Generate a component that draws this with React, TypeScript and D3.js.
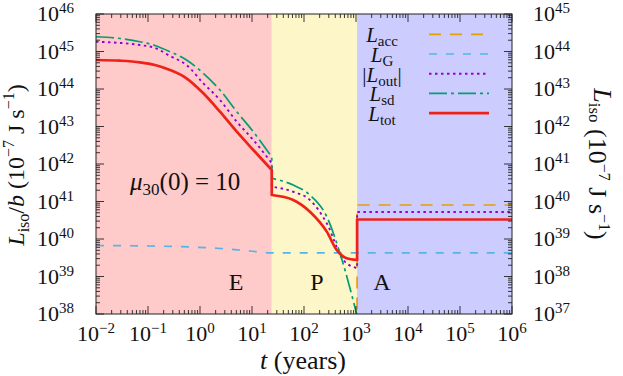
import { useRef, useEffect } from "react";
import * as d3 from "d3";

// phase boundaries (years)
const phaseEdges = [0.01, 24, 1050, 1e6];
const phaseNames = ["E", "P", "A"];
const phaseColors = ["#ffcaca", "#fdf6c9", "#ccccff"];

// ejector phase
const tE = [0.01, 0.029, 0.07, 0.136, 0.265, 0.55, 1.16, 2.42, 5.1, 10.6, 24];
const totE = [5.93e44, 5.69e44, 5.15e44, 4.37e44, 3.21e44, 1.93e44, 7.68e43, 2.48e43, 7.26e42, 2.36e42, 6.92e41];
const sdE = [2.47e45, 2.22e45, 1.82e45, 1.45e45, 9.88e44, 5.93e44, 2.62e44, 9.4e43, 2.48e43, 7.26e42, 1.54e42];
const outE = [1.82e45, 1.69e45, 1.49e45, 1.24e45, 7.59e44, 4.37e44, 1.42e44, 5.09e43, 1.34e43, 4.37e42, 1.06e42];

// propeller phase
const tP = [24, 62, 130, 274, 425, 660, 1050];
const totP = [1.49e41, 1.1e41, 5.35e40, 1.57e40, 5.09e39, 3.06e39, 2.75e39];
const tSdP = [24, 62, 130, 274, 490, 1050];
const sdP = [4.16e41, 2.75e41, 1.49e41, 3.94e40, 4.24e39, 9e37];
const tOutP = [24, 62, 130, 274, 570, 1050];
const outP = [2.48e41, 1.82e41, 1.1e41, 2.62e40, 2.75e39, 1.66e39];

// accretor phase
const tA = [1050, 1e6];
const accA = [8.07e40, 8.07e40];
const outA = [5.25e40, 5.25e40];
const totA = [3.31e40, 3.31e40];
const accFloor = 1e37;

// gravitational
const tG = [0.01, 0.109, 0.643, 2.42, 9.16, 24, 1e6];
const lG = [6.71e39, 6.5e39, 6.12e39, 5.58e39, 4.79e39, 4.24e39, 4.24e39];

const xExp = [-2, -1, 0, 1, 2, 3, 4, 5, 6];
const yExpLeft = [38, 39, 40, 41, 42, 43, 44, 45, 46];
const yExpRight = [37, 38, 39, 40, 41, 42, 43, 44, 45];

type Pt = [number, number];
type Sel = d3.Selection<SVGTextElement, unknown, null, undefined>;
const zip = (t: number[], v: number[]): Pt[] => t.map((d, i) => [d, v[i]]);

const FONT = "'Liberation Serif', 'DejaVu Serif', serif";

export default function App() {
  const svgRef = useRef<SVGSVGElement>(null);

  useEffect(() => {
    if (!svgRef.current) return;
    const svg = d3.select(svgRef.current);
    svg.selectAll("*").remove();

    const left = 96, right = 512, top = 14, bottom = 314;
    const x = d3.scaleLog().domain([1e-2, 1e6]).range([left, right]);
    const y = d3.scaleLog().domain([1e38, 1e46]).range([bottom, top]);

    svg.append("defs").append("clipPath").attr("id", "plotclip")
      .append("rect").attr("x", left).attr("y", top)
      .attr("width", right - left).attr("height", bottom - top);

    // phase shading
    phaseNames.forEach((_, i) => {
      svg.append("rect")
        .attr("x", x(phaseEdges[i]))
        .attr("y", top)
        .attr("width", x(phaseEdges[i + 1]) - x(phaseEdges[i]))
        .attr("height", bottom - top)
        .attr("fill", phaseColors[i]);
    });

    // smooth inside each phase, straight (vertical) jumps between phases
    const smooth = d3.line<Pt>().x((d) => x(d[0])).y((d) => y(d[1])).curve(d3.curveMonotoneX);
    const joined = (segs: Pt[][]) =>
      segs.map((s, i) => {
        const d = smooth(s) ?? "";
        return i === 0 ? d : "L" + d.slice(1);
      }).join("");

    const series = [
      {
        key: "acc", color: "#e69f00", width: 1.7, dash: "12,9",
        segs: [[[tA[0], accFloor] as Pt], zip(tA, accA)],
      },
      { key: "G", color: "#56b4e9", width: 1.7, dash: "8,9", segs: [zip(tG, lG)] },
      {
        key: "out", color: "#9400d3", width: 1.9, dash: "2.5,3.5",
        segs: [zip(tE, outE), zip(tOutP, outP), zip(tA, outA)],
      },
      {
        key: "sd", color: "#009e73", width: 1.7, dash: "18,4,3,4",
        segs: [zip(tE, sdE), zip(tSdP, sdP)],
      },
      {
        key: "tot", color: "#ee2219", width: 2.7, dash: null as string | null,
        segs: [zip(tE, totE), zip(tP, totP), zip(tA, totA)],
      },
    ];

    const lines = svg.append("g").attr("clip-path", "url(#plotclip)");
    series.forEach((s) => {
      lines.append("path")
        .attr("d", joined(s.segs))
        .attr("fill", "none")
        .attr("stroke", s.color)
        .attr("stroke-width", s.width)
        .attr("stroke-dasharray", s.dash)
        .attr("stroke-linejoin", "round");
    });

    // ticks, inward on all four sides
    const ticks = svg.append("g").attr("stroke", "#222").attr("stroke-width", 0.9);
    const major = 8, minor = 4;
    xExp.forEach((e) => {
      const px = x(10 ** e);
      ticks.append("line").attr("x1", px).attr("x2", px).attr("y1", bottom).attr("y2", bottom - major);
      ticks.append("line").attr("x1", px).attr("x2", px).attr("y1", top).attr("y2", top + major);
      if (e < 6) {
        for (let k = 2; k < 10; k++) {
          const mx = x(k * 10 ** e);
          ticks.append("line").attr("x1", mx).attr("x2", mx).attr("y1", bottom).attr("y2", bottom - minor);
          ticks.append("line").attr("x1", mx).attr("x2", mx).attr("y1", top).attr("y2", top + minor);
        }
      }
    });
    yExpLeft.forEach((e) => {
      const py = y(10 ** e);
      ticks.append("line").attr("x1", left).attr("x2", left + major).attr("y1", py).attr("y2", py);
      ticks.append("line").attr("x1", right).attr("x2", right - major).attr("y1", py).attr("y2", py);
      if (e < 46) {
        for (let k = 2; k < 10; k++) {
          const my = y(k * 10 ** e);
          ticks.append("line").attr("x1", left).attr("x2", left + minor).attr("y1", my).attr("y2", my);
          ticks.append("line").attr("x1", right).attr("x2", right - minor).attr("y1", my).attr("y2", my);
        }
      }
    });

    svg.append("rect")
      .attr("x", left).attr("y", top)
      .attr("width", right - left).attr("height", bottom - top)
      .attr("fill", "none").attr("stroke", "#222").attr("stroke-width", 1);

    const pow = (g: Sel, e: number) => {
      g.append("tspan").text("10");
      g.append("tspan").attr("font-size", 15).attr("dy", -8)
        .text(e < 0 ? `\u2212${-e}` : `${e}`);
    };

    const labels = svg.append("g").attr("font-family", FONT).attr("font-size", 22).attr("fill", "#111");
    xExp.forEach((e) => {
      const t = labels.append("text").attr("x", x(10 ** e)).attr("y", 341).attr("text-anchor", "middle");
      pow(t, e);
    });
    yExpLeft.forEach((e) => {
      const t = labels.append("text").attr("x", 74).attr("y", y(10 ** e) + 7).attr("text-anchor", "end");
      pow(t, e);
    });
    yExpRight.forEach((e) => {
      const t = labels.append("text").attr("x", 533).attr("y", y(10 ** (e + 1)) + 7).attr("text-anchor", "start");
      pow(t, e);
    });

    const txt = svg.append("g").attr("font-family", FONT).attr("fill", "#111");

    // axis titles
    const xt = txt.append("text").attr("x", 303).attr("y", 369).attr("font-size", 26).attr("text-anchor", "middle");
    xt.append("tspan").attr("font-style", "italic").text("t");
    xt.append("tspan").text(" (years)");

    const unit = (g: Sel) => {
      g.append("tspan").text(" (10");
      g.append("tspan").attr("font-size", 16).attr("dy", -10).text("\u22127");
      g.append("tspan").attr("dy", 10).text(" J s");
      g.append("tspan").attr("font-size", 16).attr("dy", -10).text("\u22121");
      g.append("tspan").attr("dy", 10).text(")");
    };

    const yl = txt.append("text").attr("transform", "translate(24,165) rotate(-90)")
      .attr("font-size", 24).attr("text-anchor", "middle");
    yl.append("tspan").attr("font-style", "italic").text("L");
    yl.append("tspan").attr("font-size", 16).attr("dy", 5).text("iso");
    yl.append("tspan").attr("dy", -5).text("/");
    yl.append("tspan").attr("font-style", "italic").text("b");
    unit(yl);

    const yr = txt.append("text").attr("transform", "translate(594,164) rotate(90)")
      .attr("font-size", 26).attr("text-anchor", "middle");
    yr.append("tspan").attr("font-style", "italic").text("L");
    yr.append("tspan").attr("font-size", 17).attr("dy", 5).text("iso");
    yr.append("tspan").attr("dy", -5).text("");
    unit(yr);

    // annotations
    const mu = txt.append("text").attr("x", 130).attr("y", 190).attr("font-size", 25);
    mu.append("tspan").attr("font-style", "italic").text("\u03bc");
    mu.append("tspan").attr("font-size", 17).attr("dy", 5).text("30");
    mu.append("tspan").attr("dy", -5).text("(0) = 10");

    const phaseX = [236, 317, 382];
    phaseNames.forEach((n, i) => {
      txt.append("text").attr("x", phaseX[i]).attr("y", 290).attr("font-size", 24)
        .attr("text-anchor", "middle").text(n);
    });

    // legend
    const legendNames = ["acc", "G", "out", "sd", "tot"];
    legendNames.forEach((name, i) => {
      const s = series.find((d) => d.key === name)!;
      const ly = 34.3 + i * 19.7;
      svg.append("line")
        .attr("x1", 429).attr("x2", 489).attr("y1", ly).attr("y2", ly)
        .attr("stroke", s.color).attr("stroke-width", s.width)
        .attr("stroke-dasharray", s.dash);
      const t = txt.append("text").attr("x", 382).attr("y", ly + 8)
        .attr("font-size", 21).attr("text-anchor", "middle");
      const abs = name === "out";
      if (abs) t.append("tspan").text("|");
      t.append("tspan").attr("font-style", "italic").text("L");
      t.append("tspan").attr("font-size", 15).attr("dy", 4).text(name);
      if (abs) t.append("tspan").attr("dy", -4).text("|");
    });
  }, []);

  return (
    <svg
      ref={svgRef}
      width={623}
      height={376}
      style={{ position: "absolute", left: 0, top: 0, background: "#fff" }}
      role="img"
      aria-label="Isotropic luminosity versus time across ejector, propeller and accretor phases"
    />
  );
}
